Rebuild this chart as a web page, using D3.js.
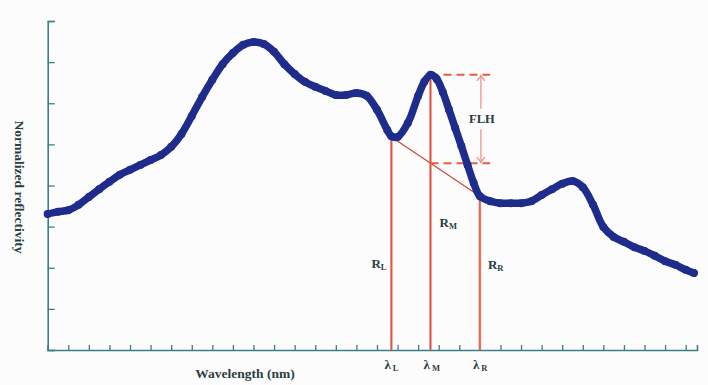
<!DOCTYPE html>
<html>
<head>
<meta charset="utf-8">
<script src="https://cdn.jsdelivr.net/npm/d3@7"></script>
<style>
  body { margin: 0; background: #fdfcfc; }
  text { font-family: "Liberation Serif", "DejaVu Serif", serif; font-weight: bold; fill: #2a3d44; }
</style>
</head>
<body>
<script>
// wavelength (nm) of each sample
const wavelength = [
  500, 505, 510, 515, 520, 525, 530, 535, 540, 545, 550, 555, 560, 565, 570, 575,
  580, 585, 590, 595, 600, 605, 610, 615, 620, 625, 630, 635, 640, 645, 650, 655,
  660, 665, 667, 670, 675, 680, 683, 686, 689, 692, 695, 698, 701, 704, 707, 710,
  715, 720, 725, 730, 735, 740, 745, 750, 755, 760, 765, 770, 775, 780, 785, 790,
  795, 800, 805, 810, 814
]
const reflectivity = [
  0.331, 0.336, 0.340, 0.353, 0.372, 0.391, 0.409, 0.426, 0.438, 0.450, 0.462, 0.474, 0.494, 0.525, 0.569, 0.615,
  0.657, 0.695, 0.722, 0.742, 0.749, 0.744, 0.725, 0.695, 0.671, 0.652, 0.640, 0.630, 0.620, 0.620, 0.625, 0.618,
  0.584, 0.535, 0.520, 0.518, 0.552, 0.618, 0.652, 0.669, 0.659, 0.627, 0.584, 0.540, 0.496, 0.450, 0.406, 0.374,
  0.362, 0.357, 0.357, 0.357, 0.362, 0.377, 0.391, 0.404, 0.411, 0.396, 0.353, 0.299, 0.275, 0.263, 0.250, 0.241,
  0.229, 0.216, 0.207, 0.195, 0.187
]

// the three band positions used for FLH
const bands = [
  { name: 'L', nm: 667, r: 0.518 },
  { name: 'M', nm: 686, r: 0.669 },
  { name: 'R', nm: 710, r: 0.374 }
]

const xTicks = d3.range(500, 811, 10)
const yTicks = d3.range(0, 0.81, 0.1)

const width = 708, height = 385

const svg = d3.select('body').append('svg')
  .attr('width', width)
  .attr('height', height)

const x = d3.scaleLinear().domain([500, 815.5]).range([47.7, 697])
const y = d3.scaleLinear().domain([0, 0.8]).range([350, 21])

const axisColor = '#3d7c88'

// axes (ticks point inward, no labels)
const xAxis = svg.append('g')
  .attr('transform', `translate(0,${y(0)})`)
  .call(d3.axisBottom(x).tickValues(xTicks).tickSize(-5).tickFormat(''))
const yAxis = svg.append('g')
  .attr('transform', `translate(${x(500)},0)`)
  .call(d3.axisLeft(y).tickValues(yTicks).tickSize(-7).tickFormat(''))

for (const g of [xAxis, yAxis]) {
  g.select('.domain').attr('stroke', axisColor).attr('stroke-width', 1.6)
  g.selectAll('.tick line').attr('stroke', axisColor).attr('stroke-width', 1.3)
}

// FLH construction lines
const bL = bands[0], bM = bands[1], bR = bands[2]
const base = bL.r + (bM.nm - bL.nm) / (bR.nm - bL.nm) * (bR.r - bL.r)

svg.selectAll('line.band')
  .data(bands)
  .join('line')
  .attr('class', 'band')
  .attr('x1', d => x(d.nm)).attr('x2', d => x(d.nm))
  .attr('y1', y(0)).attr('y2', d => y(d.r))
  .attr('stroke', '#ec8a7c')
  .attr('stroke-width', 2.6)

svg.selectAll('line.bandc')
  .data(bands)
  .join('line')
  .attr('class', 'bandc')
  .attr('x1', d => x(d.nm)).attr('x2', d => x(d.nm))
  .attr('y1', y(0)).attr('y2', d => y(d.r))
  .attr('stroke', '#d9503e')
  .attr('stroke-width', 1)

svg.append('line')
  .attr('x1', x(bL.nm)).attr('y1', y(bL.r))
  .attr('x2', x(bR.nm)).attr('y2', y(bR.r))
  .attr('stroke', '#c8483a')
  .attr('stroke-width', 1.2)

const dashEnd = 715
for (const v of [bM.r, base]) {
  svg.append('line')
    .attr('x1', x(bM.nm)).attr('x2', x(dashEnd))
    .attr('y1', y(v)).attr('y2', y(v))
    .attr('stroke', '#ea5a40')
    .attr('stroke-width', 2)
    .attr('stroke-dasharray', '8,5')
}

// arrows of FLH
const ax = x(710.5)
const arrowColor = '#ee8a80'
svg.append('line')
  .attr('x1', ax).attr('x2', ax)
  .attr('y1', y(bM.r)).attr('y2', y(bM.r) + 34)
  .attr('stroke', arrowColor).attr('stroke-width', 1.2)
svg.append('path')
  .attr('d', `M${ax - 4},${y(bM.r) + 6}L${ax},${y(bM.r) + 1}L${ax + 4},${y(bM.r) + 6}`)
  .attr('fill', 'none').attr('stroke', arrowColor).attr('stroke-width', 1.2)
svg.append('line')
  .attr('x1', ax).attr('x2', ax)
  .attr('y1', y(base) - 34).attr('y2', y(base))
  .attr('stroke', arrowColor).attr('stroke-width', 1.2)
svg.append('path')
  .attr('d', `M${ax - 4},${y(base) - 6}L${ax},${y(base) - 1}L${ax + 4},${y(base) - 6}`)
  .attr('fill', 'none').attr('stroke', arrowColor).attr('stroke-width', 1.2)

svg.append('text')
  .attr('x', ax + 1).attr('y', (y(bM.r) + y(base)) / 2 + 4)
  .attr('text-anchor', 'middle')
  .attr('font-size', 12.5)
  .text('FLH')

// spectrum
const line = d3.line()
  .x((d, i) => x(wavelength[i]))
  .y(d => y(d))
  .curve(d3.curveCatmullRom)

svg.append('path')
  .datum(reflectivity)
  .attr('d', line)
  .attr('fill', 'none')
  .attr('stroke', '#1e2c8c')
  .attr('stroke-width', 7.5)
  .attr('stroke-linecap', 'round')
  .attr('stroke-linejoin', 'round')

svg.selectAll('circle')
  .data(reflectivity)
  .join('circle')
  .attr('cx', (d, i) => x(wavelength[i]))
  .attr('cy', d => y(d))
  .attr('r', 4)
  .attr('fill', '#1e2c8c')

// R labels
const rLabel = (px, py, sub) => {
  const t = svg.append('text')
    .attr('x', px).attr('y', py)
    .attr('font-size', 13)
  t.append('tspan').text('R')
  t.append('tspan').attr('font-size', 8.5).attr('dy', 2).text(sub)
}
rLabel(x(bL.nm) - 20, 268, 'L')
rLabel(x(bM.nm) + 9, 227, 'M')
rLabel(x(bR.nm) + 8, 269, 'R')

// lambda labels
svg.selectAll('text.lam')
  .data(bands)
  .join('text')
  .attr('class', 'lam')
  .attr('x', d => x(d.nm) - 7)
  .attr('y', 369)
  .attr('font-size', 13)
  .each(function (d) {
    const t = d3.select(this)
    t.append('tspan').text('λ')
    t.append('tspan').attr('font-size', 8.5).attr('dx', 2).attr('dy', 2).text(d.name)
  })

// axis titles
svg.append('text')
  .attr('x', 245).attr('y', 378)
  .attr('text-anchor', 'middle')
  .attr('font-size', 13.5)
  .text('Wavelength (nm)')

svg.append('text')
  .attr('transform', `translate(15,${187}) rotate(90)`)
  .attr('text-anchor', 'middle')
  .attr('font-size', 13.5)
  .text('Normalized reflectivity')
</script>
</body>
</html>
